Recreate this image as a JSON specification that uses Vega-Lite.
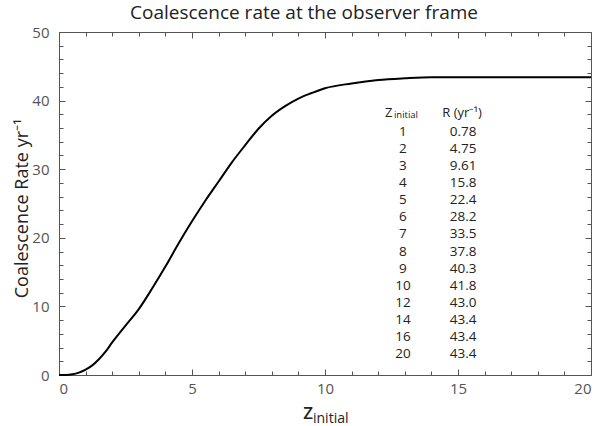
{
  "$schema": "https://vega.github.io/schema/vega-lite/v6.json",
  "autosize": {"type": "none"},
  "padding": {"left": 59, "top": 32, "right": 9, "bottom": 51},
  "width": 532,
  "height": 343,
  "title": {"text": "Coalescence rate at the observer frame", "font": "Open Sans", "fontSize": 19, "fontWeight": "normal", "color": "#222", "offset": 0, "baseline": "alphabetic", "dy": 13, "dx": -21},
  "config": {
    "view": {"stroke": "#555", "strokeWidth": 1},
    "font": "Open Sans",
    "axis": {"domain": false, "grid": false, "tickColor": "#555", "labelColor": "#555", "labelFont": "Open Sans", "labelFontSize": 15}
  },
  "datasets": {
    "curve": [
      {"z": 0, "rate": 0}, {"z": 0.25, "rate": 0.01}, {"z": 0.5, "rate": 0.1}, {"z": 0.75, "rate": 0.35},
      {"z": 1, "rate": 0.78}, {"z": 1.25, "rate": 1.4}, {"z": 1.5, "rate": 2.3}, {"z": 1.75, "rate": 3.4},
      {"z": 2, "rate": 4.75}, {"z": 2.5, "rate": 7.2}, {"z": 3, "rate": 9.61}, {"z": 3.5, "rate": 12.6},
      {"z": 4, "rate": 15.8}, {"z": 4.5, "rate": 19.2}, {"z": 5, "rate": 22.4}, {"z": 5.5, "rate": 25.4},
      {"z": 6, "rate": 28.2}, {"z": 6.5, "rate": 31.0}, {"z": 7, "rate": 33.5}, {"z": 7.5, "rate": 35.9},
      {"z": 8, "rate": 37.8}, {"z": 8.5, "rate": 39.2}, {"z": 9, "rate": 40.3}, {"z": 9.5, "rate": 41.1},
      {"z": 10, "rate": 41.8}, {"z": 11, "rate": 42.5}, {"z": 12, "rate": 43.0}, {"z": 13, "rate": 43.25},
      {"z": 14, "rate": 43.4}, {"z": 16, "rate": 43.4}, {"z": 20, "rate": 43.4}
    ],
    "table": [
      {"row": 1, "zi": "1", "R": "0.78"}, {"row": 2, "zi": "2", "R": "4.75"}, {"row": 3, "zi": "3", "R": "9.61"},
      {"row": 4, "zi": "4", "R": "15.8"}, {"row": 5, "zi": "5", "R": "22.4"}, {"row": 6, "zi": "6", "R": "28.2"},
      {"row": 7, "zi": "7", "R": "33.5"}, {"row": 8, "zi": "8", "R": "37.8"}, {"row": 9, "zi": "9", "R": "40.3"},
      {"row": 10, "zi": "10", "R": "41.8"}, {"row": 11, "zi": "12", "R": "43.0"}, {"row": 12, "zi": "14", "R": "43.4"},
      {"row": 13, "zi": "16", "R": "43.4"}, {"row": 14, "zi": "20", "R": "43.4"}
    ],
    "one": [{}]
  },
  "layer": [
    {
      "data": {"name": "curve"},
      "mark": {"type": "line", "color": "#000", "strokeWidth": 2, "interpolate": "monotone"},
      "encoding": {
        "x": {"field": "z", "type": "quantitative", "scale": {"domain": [0, 20], "nice": false},
          "axis": {"orient": "bottom", "title": null, "values": [0,1,2,3,4,5,6,7,8,9,10,11,12,13,14,15,16,17,18,19,20],
            "labelExpr": "datum.value % 5 === 0 ? datum.label : ''", "labelPadding": 12,
            "tickSize": {"condition": {"test": "datum.value % 5 === 0", "value": -6}, "value": -4}}},
        "y": {"field": "rate", "type": "quantitative", "scale": {"domain": [0, 50], "nice": false},
          "axis": {"orient": "left", "values": [0,2,4,6,8,10,12,14,16,18,20,22,24,26,28,30,32,34,36,38,40,42,44,46,48,50],
            "labelExpr": "datum.value % 10 === 0 ? datum.label : ''", "labelPadding": 16,
            "tickSize": {"condition": {"test": "datum.value % 10 === 0", "value": -6}, "value": -4},
            "title": "Coalescence Rate yr⁻¹", "titleFont": "Open Sans", "titleFontSize": 18, "titleFontWeight": "normal", "titleColor": "#222",
            "titleX": -32, "titleY": 176, "titleBaseline": "alphabetic"}}
      }
    },
    {
      "data": {"name": "curve"},
      "mark": {"type": "line", "strokeOpacity": 0},
      "encoding": {
        "x": {"field": "z", "type": "quantitative", "scale": {"domain": [0, 20], "nice": false},
          "axis": {"orient": "top", "title": null, "labels": false, "values": [0,1,2,3,4,5,6,7,8,9,10,11,12,13,14,15,16,17,18,19,20],
            "tickSize": {"condition": {"test": "datum.value % 5 === 0", "value": -6}, "value": -4}}},
        "y": {"field": "rate", "type": "quantitative", "scale": {"domain": [0, 50], "nice": false},
          "axis": {"orient": "right", "title": null, "labels": false, "values": [0,2,4,6,8,10,12,14,16,18,20,22,24,26,28,30,32,34,36,38,40,42,44,46,48,50],
            "tickSize": {"condition": {"test": "datum.value % 10 === 0", "value": -6}, "value": -4}}}
      }
    },
    {
      "data": {"name": "table"},
      "mark": {"type": "text", "font": "Open Sans", "fontSize": 13.5, "color": "#222", "align": "center", "baseline": "middle"},
      "encoding": {
        "x": {"datum": 12.93, "type": "quantitative", "scale": {"domain": [0, 20], "nice": false}, "axis": null},
        "y": {"field": "row", "type": "quantitative", "scale": {"domain": [-4.802, 15.198], "reverse": true, "nice": false, "zero": false}, "axis": null},
        "text": {"field": "zi"}
      }
    },
    {
      "data": {"name": "table"},
      "mark": {"type": "text", "font": "Open Sans", "fontSize": 13.5, "color": "#222", "align": "center", "baseline": "middle"},
      "encoding": {
        "x": {"datum": 15.19, "type": "quantitative", "scale": {"domain": [0, 20], "nice": false}, "axis": null},
        "y": {"field": "row", "type": "quantitative", "scale": {"domain": [-4.802, 15.198], "reverse": true, "nice": false, "zero": false}, "axis": null},
        "text": {"field": "R"}
      }
    },
    {
      "data": {"name": "one"},
      "mark": {"type": "text", "font": "Open Sans", "fontSize": 13, "color": "#222", "align": "left", "baseline": "middle", "dx": -18, "text": "Z"},
      "encoding": {
        "x": {"datum": 12.93, "type": "quantitative", "scale": {"domain": [0, 20], "nice": false}, "axis": null},
        "y": {"datum": -0.1, "type": "quantitative", "scale": {"domain": [-4.802, 15.198], "reverse": true, "nice": false, "zero": false}, "axis": null}
      }
    },
    {
      "data": {"name": "one"},
      "mark": {"type": "text", "font": "Open Sans", "fontSize": 9.5, "color": "#222", "align": "left", "baseline": "middle", "dx": -9, "dy": 2.5, "text": "initial"},
      "encoding": {
        "x": {"datum": 12.93, "type": "quantitative", "scale": {"domain": [0, 20], "nice": false}, "axis": null},
        "y": {"datum": -0.1, "type": "quantitative", "scale": {"domain": [-4.802, 15.198], "reverse": true, "nice": false, "zero": false}, "axis": null}
      }
    },
    {
      "data": {"name": "one"},
      "mark": {"type": "text", "font": "Open Sans", "fontSize": 13, "color": "#222", "align": "center", "baseline": "middle", "dx": -1, "text": "R (yr⁻¹)"},
      "encoding": {
        "x": {"datum": 15.19, "type": "quantitative", "scale": {"domain": [0, 20], "nice": false}, "axis": null},
        "y": {"datum": -0.1, "type": "quantitative", "scale": {"domain": [-4.802, 15.198], "reverse": true, "nice": false, "zero": false}, "axis": null}
      }
    },
    {
      "data": {"name": "one"},
      "mark": {"type": "text", "font": "Open Sans", "fontSize": 17, "fontWeight": 600, "color": "#222", "align": "right", "baseline": "alphabetic", "dx": -12, "text": "Z"},
      "encoding": {
        "x": {"datum": 10, "type": "quantitative", "scale": {"domain": [0, 20], "nice": false}, "axis": null},
        "y": {"datum": -6.41, "type": "quantitative", "scale": {"domain": [0, 50], "nice": false}, "axis": null}
      }
    },
    {
      "data": {"name": "one"},
      "mark": {"type": "text", "font": "Open Sans", "fontSize": 14, "color": "#222", "align": "left", "baseline": "alphabetic", "dx": -12, "text": "initial"},
      "encoding": {
        "x": {"datum": 10, "type": "quantitative", "scale": {"domain": [0, 20], "nice": false}, "axis": null},
        "y": {"datum": -7.0, "type": "quantitative", "scale": {"domain": [0, 50], "nice": false}, "axis": null}
      }
    }
  ],
  "resolve": {"scale": {"y": "independent"}, "axis": {"x": "independent", "y": "independent"}}
}
